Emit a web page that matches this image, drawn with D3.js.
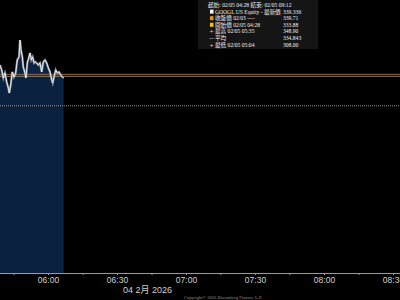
<!DOCTYPE html>
<html>
<head>
<meta charset="utf-8">
<script src="https://cdn.jsdelivr.net/npm/d3@7"></script>
<style>
  body { margin: 0; background: #000; }
  svg { display: block; }
</style>
</head>
<body>
<script>
// price series (time, price)
var times = ["05:39:08", "05:39:52", "05:40:34", "05:41:18", "05:42:03", "05:42:45", "05:43:11",
  "05:43:47", "05:44:29", "05:45:13", "05:45:58", "05:46:39", "05:47:24", "05:47:50", "05:48:16",
  "05:48:50", "05:49:16", "05:49:52", "05:50:26", "05:51:00", "05:51:37", "05:52:11", "05:52:45",
  "05:53:21", "05:53:55", "05:54:29", "05:55:06", "05:55:47", "05:56:32", "05:57:16", "05:57:58",
  "05:58:42", "05:59:26", "06:00:08", "06:00:53", "06:01:37", "06:02:03", "06:02:37", "06:03:21",
  "06:04:03", "06:04:47", "06:05:32", "06:06:13", "06:06:50"];
var prices = [341.44, 340.52, 339.04, 339.96, 338.30, 337.19, 336.26,
  337.74, 340.15, 339.22, 339.96, 342.37, 342.93, 346.07, 344.22,
  342.93, 341.07, 340.15, 339.04, 341.81, 342.74, 343.67, 342.37,
  342.93, 341.81, 342.00, 341.81, 341.44, 341.81, 340.15, 342.00,
  342.37, 341.81, 340.89, 340.15, 338.67, 338.11, 339.22, 340.52,
  339.96, 340.15, 339.59, 339.22, 339.04];

var lastPrice = 339.336;
var closePrice = 339.71;
var openPrice = 333.88;

var xTicks = ["05:45", "06:00", "06:15", "06:30", "06:45", "07:00", "07:15", "07:30",
  "07:45", "08:00", "08:15", "08:30"];
var dateLabel = "04 2月 2026";

var legendRows = [
  {mark: "", color: "#fff", label: "起始: 02/05 04:28 結束: 02/05 09:12", value: ""},
  {mark: "sq", color: "#ffffff", label: "GOOGL US Equity - 最新價", value: "339.336"},
  {mark: "sq", color: "#e8951c", label: "收盤價 02/03 ----", value: "339.71"},
  {mark: "sq", color: "#f2c418", label: "開始價 02/05 04:28", value: "333.88"},
  {mark: "+", color: "#ddd", label: "最高 02/05 05:35", value: "348.90"},
  {mark: "—", color: "#ddd", label: "平均", value: "334.843"},
  {mark: "+", color: "#ddd", label: "最低 02/05 05:04", value: "308.00"}
];

var W = 400, H = 300, plotBottom = 273;
var parse = d3.timeParse("%Y-%m-%d %H:%M:%S");
var day = "2026-02-04 ";

var data = times.map(function(t, i) {
  return {t: parse(day + t), v: prices[i]};
});

var svg = d3.select("body").append("svg")
  .attr("width", W)
  .attr("height", H)
  .style("background", "#000");

var x = d3.scaleTime()
  .domain([parse(day + "05:39:08"), parse(day + "08:33:03")])
  .range([0, W]);
var y = d3.scaleLinear()
  .domain([302.9, 353.48])
  .range([plotBottom, 0]);

// area under the price line
var area = d3.area()
  .x(function(d) { return x(d.t); })
  .y0(plotBottom)
  .y1(function(d) { return y(d.v); });
svg.append("path")
  .attr("d", area(data))
  .attr("fill", "#0b2140");

// reference lines
svg.append("line")
  .attr("x1", 0).attr("x2", W)
  .attr("y1", y(closePrice)).attr("y2", y(closePrice))
  .attr("stroke", "#9c6a3e").attr("stroke-width", 1);
svg.append("line")
  .attr("x1", 0).attr("x2", W)
  .attr("y1", y(lastPrice)).attr("y2", y(lastPrice))
  .attr("stroke", "#a89a88").attr("stroke-width", 0.8);
svg.append("line")
  .attr("x1", 0).attr("x2", W)
  .attr("y1", y(openPrice)).attr("y2", y(openPrice))
  .attr("stroke", "#c9b48e").attr("stroke-width", 0.8)
  .attr("stroke-dasharray", "1,1");

// price line
var line = d3.line()
  .x(function(d) { return x(d.t); })
  .y(function(d) { return y(d.v); });
svg.append("path")
  .attr("d", line(data))
  .attr("fill", "none")
  .attr("stroke", "#7d8590")
  .attr("stroke-width", 2.2);
svg.append("path")
  .attr("d", line(data))
  .attr("fill", "none")
  .attr("stroke", "#f2f2f2")
  .attr("stroke-width", 0.9);

// x axis
var fmt = d3.timeFormat("%H:%M");
var xAxis = d3.axisBottom(x)
  .tickValues(xTicks.map(function(t) { return parse(day + t + ":00"); }))
  .tickSize(2)
  .tickSizeOuter(0)
  .tickFormat(function(d) { return d.getMinutes() % 30 === 0 ? fmt(d) : ""; });

var gx = svg.append("g")
  .attr("transform", "translate(0," + plotBottom + ")")
  .call(xAxis);
gx.select(".domain").attr("stroke", "#9a9a9a").attr("d", "M0,0.5H" + W);
gx.selectAll(".tick line").attr("stroke", "#9a9a9a");
gx.selectAll(".tick text")
  .attr("y", 9.5)
  .attr("dy", null)
  .attr("fill", "#d0d0d0")
  .style("font-family", "Liberation Sans, Arial, sans-serif")
  .style("font-size", "8.5px");

svg.append("text")
  .attr("x", 123).attr("y", 293)
  .attr("fill", "#d0d0d0")
  .style("font-family", "Liberation Sans, Noto Sans CJK TC, sans-serif")
  .style("font-size", "9px")
  .text(dateLabel);

svg.append("text")
  .attr("x", 223).attr("y", 298.5)
  .attr("text-anchor", "middle")
  .attr("fill", "#8a8a8a")
  .style("font-family", "Liberation Serif, serif")
  .style("font-size", "4.6px")
  .text("Copyright® 2026 Bloomberg Finance L.P.");

// legend box
var lg = svg.append("g");
lg.append("rect")
  .attr("x", 198).attr("y", 0)
  .attr("width", 120).attr("height", 49)
  .attr("fill", "#151515");

legendRows.forEach(function(r, i) {
  var cy = 5 + i * 6.6;
  var tx = i === 0 ? 208 : 215;
  if (r.mark === "sq") {
    lg.append("rect")
      .attr("x", 210).attr("y", cy - 2)
      .attr("width", 3.5).attr("height", 4)
      .attr("fill", r.color);
  } else if (r.mark) {
    lg.append("text")
      .attr("x", 211.5).attr("y", cy + 2)
      .attr("text-anchor", "middle")
      .attr("fill", r.color)
      .style("font-family", "DejaVu Sans, sans-serif")
      .style("font-size", "5px")
      .text(r.mark);
  }
  lg.append("text")
    .attr("x", tx).attr("y", cy + 2)
    .attr("fill", "#f0f0f0")
    .style("font-family", "Liberation Serif, Noto Sans CJK TC, serif")
    .style("font-size", "5.6px")
    .text(r.label);
  if (r.value) {
    lg.append("text")
      .attr("x", 283).attr("y", cy + 2)
      .attr("fill", "#f0f0f0")
      .style("font-family", "Liberation Serif, serif")
      .style("font-size", "5.6px")
      .text(r.value);
  }
});
</script>
</body>
</html>
